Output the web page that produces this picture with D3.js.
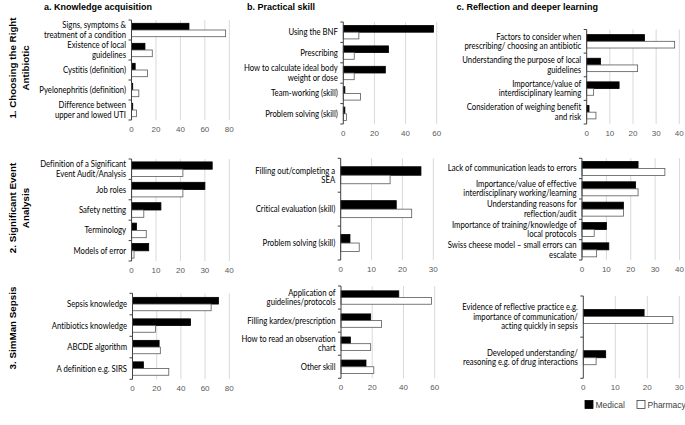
<!DOCTYPE html>
<html>
<head>
<meta charset="utf-8">
<script src="https://cdn.jsdelivr.net/npm/d3@7/dist/d3.min.js"></script>
<style>
  html, body { margin: 0; padding: 0; background: #fff; }
  svg { display: block; }
  .lbl { font-variant-ligatures: none; font-feature-settings: "liga" 0, "dlig" 0, "clig" 0; }
</style>
</head>
<body>
<svg id="chart" width="685" height="425"></svg>
<script>
// ---------------- DATA ----------------
const seriesNames = ["Medical", "Pharmacy"];
const rowTitles = ["1. Choosing the Right\nAntibiotic", "2. Significant Event\nAnalysis", "3. SimMan Sepsis"];
const colTitles = ["a. Knowledge acquisition", "b. Practical skill", "c. Reflection and deeper learning"];

const cat1a = ["Signs, symptoms &\ntreatment of a condition", "Existence of local\nguidelines", "Cystitis (definition)", "Pyelonephritis (definition)", "Difference between\nupper and lowed UTI"];
const med1a = [47, 11, 3, 1, 1];
const pha1a = [77, 17, 13, 6, 4];
const ticks1a = [0, 20, 40, 60, 80];

const cat1b = ["Using the BNF", "Prescribing", "How to calculate ideal body\nweight or dose", "Team-working (skill)", "Problem solving (skill)"];
const med1b = [58, 29, 27, 1, 1];
const pha1b = [10, 7, 7, 11, 2];
const ticks1b = [0, 20, 40, 60];

const cat1c = ["Factors to consider when\nprescribing/ choosing an antibiotic", "Understanding the purpose of local\nguidelines", "Importance/value of\ninterdisciplinary learning", "Consideration of weighing benefit\nand risk"];
const med1c = [25, 6, 14, 1];
const pha1c = [38, 22, 3, 4];
const ticks1c = [0, 10, 20, 30, 40];

const cat2a = ["Definition of a Significant\nEvent Audit/Analysis", "Job roles", "Safety netting", "Terminology", "Models of error"];
const med2a = [33, 30, 12, 2, 7];
const pha2a = [21, 21, 5, 6, 1];
const ticks2a = [0, 10, 20, 30, 40];

const cat2b = ["Filling out/completing a\nSEA", "Critical evaluation (skill)", "Problem solving (skill)"];
const med2b = [26, 18, 3];
const pha2b = [16, 23, 6];
const ticks2b = [0, 10, 20, 30];

const cat2c = ["Lack of communication leads to errors", "Importance/value of effective\ninterdisciplinary working/learning", "Understanding reasons for\nreflection/audit", "Importance of training/knowledge of\nlocal protocols", "Swiss cheese model \u2013 small errors can\nescalate"];
const med2c = [23, 22, 17, 10, 11];
const pha2c = [34, 23, 17, 5, 6];
const ticks2c = [0, 10, 20, 30, 40];

const cat3a = ["Sepsis knowledge", "Antibiotics knowledge", "ABCDE algorithm", "A definition e.g. SIRS"];
const med3a = [71, 48, 22, 9];
const pha3a = [65, 19, 23, 30];
const ticks3a = [0, 20, 40, 60, 80];

const cat3b = ["Application of\nguidelines/protocols", "Filling kardex/prescription", "How to read an observation\nchart", "Other skill"];
const med3b = [37, 19, 6, 16];
const pha3b = [58, 26, 19, 21];
const ticks3b = [0, 20, 40, 60];

const cat3c = ["Evidence of reflective practice e.g.\nimportance of communication/\nacting quickly in sepsis", "Developed understanding/\nreasoning e.g. of drug interactions"];
const med3c = [19, 7];
const pha3c = [28, 4];
const ticks3c = [0, 10, 20, 30];

// ---------------- LAYOUT (pixels / styles) ----------------
const panels = [
  { cats: cat1a, med: med1a, pha: pha1a, ticks: ticks1a, x0: 131.5, x1: 229.3, y0: 20,    y1: 120,   barH: 6.7 },
  { cats: cat1b, med: med1b, pha: pha1b, ticks: ticks1b, x0: 343.3, x1: 436.7, y0: 22,    y1: 124,   barH: 6.7 },
  { cats: cat1c, med: med1c, pha: pha1c, ticks: ticks1c, x0: 586.7, x1: 679.3, y0: 29.5,  y1: 124,   barH: 6.7 },
  { cats: cat2a, med: med2a, pha: pha2a, ticks: ticks2a, x0: 131.6, x1: 229.3, y0: 159,   y1: 261,   barH: 7.3 },
  { cats: cat2b, med: med2b, pha: pha2b, ticks: ticks2b, x0: 340.7, x1: 433.3, y0: 158.3, y1: 260,   barH: 8.5 },
  { cats: cat2c, med: med2c, pha: pha2c, ticks: ticks2c, x0: 582,   x1: 679.5, y0: 158.3, y1: 260,   barH: 7.0 },
  { cats: cat3a, med: med3a, pha: pha3a, ticks: ticks3a, x0: 132.5, x1: 229.3, y0: 293.3, y1: 379.3, barH: 6.7 },
  { cats: cat3b, med: med3b, pha: pha3b, ticks: ticks3b, x0: 341,   x1: 434.7, y0: 286,   y1: 378.3, barH: 6.7 },
  { cats: cat3c, med: med3c, pha: pha3c, ticks: ticks3c, x0: 583.3, x1: 679.3, y0: 296,   y1: 378.3, barH: 7.0 }
];
const colTitleX = [44, 247, 456.5];
const rowTitleY = [68, 208, 328];

const labelFont = "Lato, 'Open Sans', sans-serif";
const arial = "'Liberation Sans', Arial, sans-serif";

const svg = d3.select("#chart");
svg.append("rect").attr("width", 685).attr("height", 425).attr("fill", "#fff");

// column titles
svg.selectAll("text.coltitle").data(colTitles).join("text")
  .attr("class", "coltitle")
  .attr("x", (d, i) => colTitleX[i]).attr("y", 10)
  .attr("font-family", arial).attr("font-weight", "bold").attr("font-size", 9)
  .attr("fill", "#000").text(d => d);

// row titles (rotated)
rowTitles.forEach((t, i) => {
  const lines = t.split("\n");
  const g = svg.append("g").attr("transform", `translate(0,${rowTitleY[i]}) rotate(-90)`);
  const txt = g.append("text").attr("text-anchor", "middle")
    .attr("font-family", arial).attr("font-weight", "bold").attr("font-size", 9.8).attr("fill", "#000");
  lines.forEach((l, j) => {
    txt.append("tspan").attr("x", 0).attr("y", 16 + j * 12.5).text(l);
  });
});

// panels
panels.forEach(p => {
  const g = svg.append("g");
  const x = d3.scaleLinear().domain([0, d3.max(p.ticks)]).range([p.x0, p.x1]);
  const y = d3.scaleBand().domain(p.cats).range([p.y0, p.y1]).paddingInner(0).paddingOuter(0);
  const bw = y.bandwidth();
  const pad = (bw / p.barH - 2) / 2;
  const ys = d3.scaleBand().domain(seriesNames).range([0, bw]).paddingInner(0).paddingOuter(pad);

  // gridlines
  g.selectAll("line.grid").data(p.ticks.filter(t => t > 0)).join("line")
    .attr("x1", d => x(d)).attr("x2", d => x(d))
    .attr("y1", p.y0).attr("y2", p.y1)
    .attr("stroke", "#d9d9d9").attr("stroke-width", 1);

  // tick labels
  g.selectAll("text.tick").data(p.ticks).join("text")
    .attr("x", d => x(d)).attr("y", p.y1 + 12)
    .attr("text-anchor", "middle")
    .attr("font-family", arial).attr("font-size", 8).attr("fill", "#595959")
    .text(d => d);

  // bars
  const rows = p.cats.map((c, i) => ({ cat: c, vals: [p.med[i], p.pha[i]] }));
  const cg = g.selectAll("g.cat").data(rows).join("g")
    .attr("transform", d => `translate(0,${y(d.cat)})`);
  cg.selectAll("rect").data(d => d.vals.map((v, k) => ({ s: seriesNames[k], v }))).join("rect")
    .attr("x", x(0))
    .attr("y", d => ys(d.s))
    .attr("width", d => x(d.v) - x(0))
    .attr("height", ys.bandwidth())
    .attr("fill", d => d.s === "Medical" ? "#000" : "#fff")
    .attr("stroke", d => d.s === "Medical" ? "#000" : "#595959")
    .attr("stroke-width", 0.8);

  // y axis line & ticks at band boundaries
  g.append("line").attr("x1", x(0)).attr("x2", x(0)).attr("y1", p.y0).attr("y2", p.y1)
    .attr("stroke", "#404040").attr("stroke-width", 1);
  const bounds = p.cats.map(c => y(c)).concat([p.y1]);
  g.selectAll("line.ytick").data(bounds).join("line")
    .attr("x1", x(0) - 3).attr("x2", x(0)).attr("y1", d => d).attr("y2", d => d)
    .attr("stroke", "#404040").attr("stroke-width", 1);

  // category labels (slightly condensed to mimic Calibri)
  cg.each(function (d) {
    const lines = d.cat.split("\n");
    const lh = 9.4;
    const t = d3.select(this).append("g")
      .attr("transform", `translate(${x(0) - 5.5},0) scale(0.89,1)`)
      .append("text")
      .attr("class", "lbl")
      .attr("text-anchor", "end")
      .attr("font-family", labelFont).attr("font-size", 8.7).attr("fill", "#000");
    lines.forEach((l, j) => {
      t.append("tspan").attr("x", 0)
        .attr("y", bw / 2 + (j - (lines.length - 1) / 2) * lh + 3)
        .text(l);
    });
  });
});

// legend
const legend = svg.append("g").attr("transform", "translate(585,405)");
seriesNames.forEach((s, i) => {
  const lx = i === 0 ? 0 : 52;
  legend.append("rect").attr("x", lx).attr("y", -4.5).attr("width", 8).attr("height", 8)
    .attr("fill", s === "Medical" ? "#000" : "#fff").attr("stroke", s === "Medical" ? "#000" : "#404040").attr("stroke-width", 0.8);
  legend.append("text").attr("x", lx + 10.5).attr("y", 3)
    .attr("font-family", arial).attr("font-size", 8.5).attr("fill", "#404040").text(s);
});
</script>
</body>
</html>
